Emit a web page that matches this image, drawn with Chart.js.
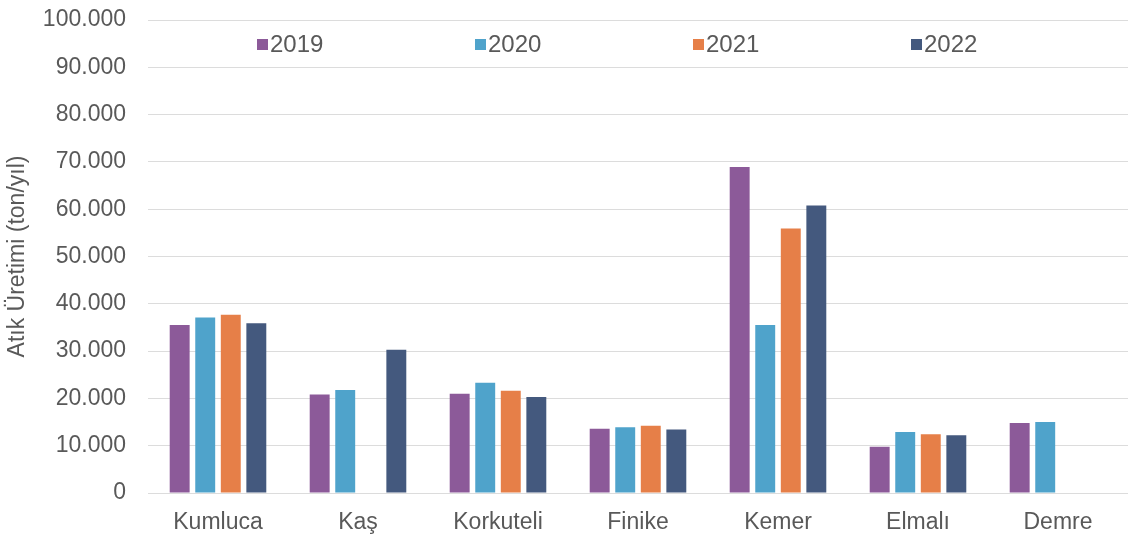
<!DOCTYPE html>
<html lang="tr">
  <head>
    <meta charset="UTF-8" />
    <title>Atık Üretimi</title>
    <script src="https://cdn.jsdelivr.net/npm/chart.js@4.4.1/dist/chart.umd.min.js"></script>
    <style>
      body {
        margin: 0;
        background: #ffffff;
      }
      .chart-container {
        position: relative;
        width: 1142px;
        height: 540px;
      }
    </style>
  </head>
  <body>
    <div class="chart-container">
      <canvas id="wasteChart"></canvas>
    </div>

    <script>
      // İlçeler
      const districts = ['Kumluca', 'Kaş', 'Korkuteli', 'Finike', 'Kemer', 'Elmalı', 'Demre']

      // Yıllara göre atık üretimi (ton/yıl)
      const years = ['2019', '2020', '2021', '2022']
      const values2019 = [35500, 20800, 21000, 13600, 68900, 9800, 14800]
      const values2020 = [37100, 21800, 23300, 13900, 35500, 12900, 15000]
      const values2021 = [37700, null, 21600, 14200, 55900, 12400, null]
      const values2022 = [35900, 30300, 20300, 13400, 60800, 12200, null]

      const yTicks = [0, 10000, 20000, 30000, 40000, 50000, 60000, 70000, 80000, 90000, 100000]

      const colors = ['#8c5a99', '#4fa3cb', '#e67f48', '#44597e']
      const textColor = '#595959'
      const fontFamily = "'Liberation Sans', Arial, sans-serif"

      // binlik ayırıcı nokta: 100.000
      function formatThousands(v) {
        return String(v).replace(/\B(?=(\d{3})+(?!\d))/g, '.')
      }

      // Lejant grafik alanının içinde, geniş aralıklı çiziliyor
      const insideLegend = {
        id: 'insideLegend',
        afterDraw(chart) {
          const ctx = chart.ctx
          const area = chart.chartArea
          const y = area.top + 24
          ctx.save()
          ctx.font = '24px ' + fontFamily
          ctx.textBaseline = 'middle'
          chart.data.datasets.forEach((ds, i) => {
            const x = area.left + 109 + i * 218
            ctx.fillStyle = ds.backgroundColor
            ctx.fillRect(x, y - 5, 11, 11)
            ctx.fillStyle = textColor
            ctx.fillText(ds.label, x + 13, y + 1)
          })
          ctx.restore()
        }
      }

      const seriesValues = [values2019, values2020, values2021, values2022]

      const ctx = document.getElementById('wasteChart').getContext('2d')
      new Chart(ctx, {
        type: 'bar',
        data: {
          labels: districts,
          datasets: years.map((yr, i) => ({
            label: yr,
            data: seriesValues[i],
            backgroundColor: colors[i],
            borderWidth: 0,
            categoryPercentage: 0.73,
            barPercentage: 0.78
          }))
        },
        options: {
          responsive: true,
          maintainAspectRatio: false,
          animation: false,
          layout: {
            padding: { top: 20, right: 14, bottom: 0, left: 0 }
          },
          plugins: {
            legend: { display: false },
            tooltip: { enabled: false }
          },
          scales: {
            x: {
              grid: { display: false },
              border: { display: false },
              afterFit: axis => {
                axis.height = 47
              },
              ticks: {
                color: textColor,
                padding: 8,
                font: { size: 23, family: fontFamily }
              }
            },
            y: {
              min: 0,
              max: 100000,
              afterBuildTicks: axis => {
                axis.ticks = yTicks.map(v => ({ value: v }))
              },
              afterFit: axis => {
                axis.width = 148
                axis.paddingTop = 0
                axis.paddingBottom = 0
              },
              grid: {
                color: '#dcdcdc',
                lineWidth: 1,
                drawTicks: false
              },
              border: { display: false },
              ticks: {
                color: textColor,
                padding: 22,
                font: { size: 23, family: fontFamily },
                callback: v => formatThousands(v)
              },
              title: {
                display: true,
                text: 'Atık Üretimi (ton/yıl)',
                color: textColor,
                padding: { top: 4, bottom: 0 },
                font: { size: 23, family: fontFamily }
              }
            }
          }
        },
        plugins: [insideLegend]
      })
    </script>
  </body>
</html>
